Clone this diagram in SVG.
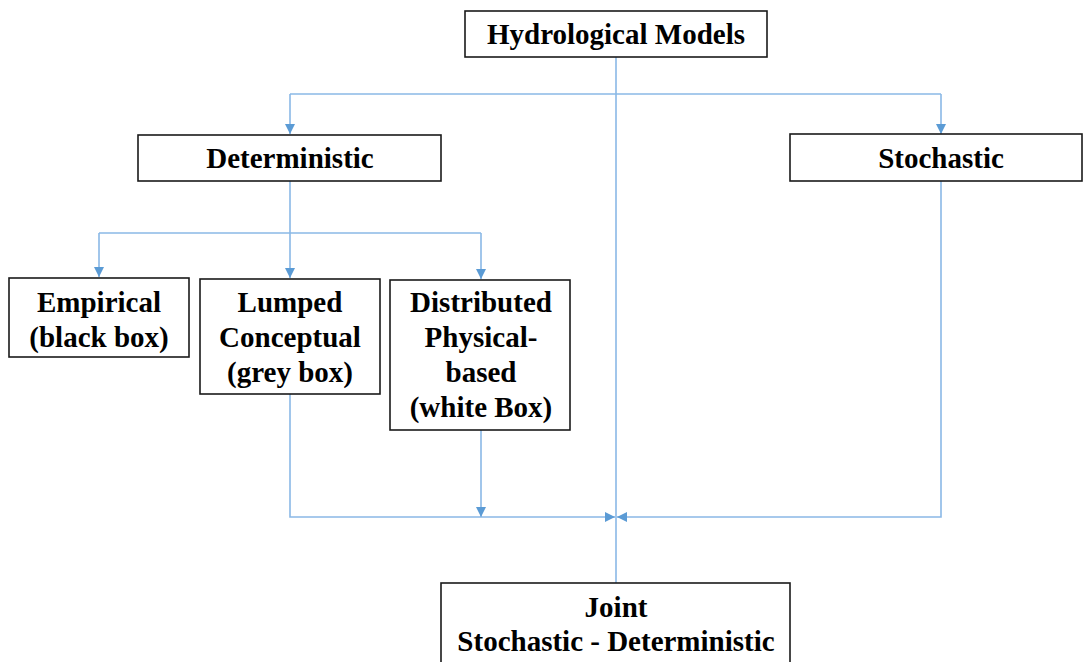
<svg xmlns="http://www.w3.org/2000/svg" width="1083" height="662" viewBox="0 0 1083 662">
<style>
.box{fill:#fff;stroke:#1a1a1a;stroke-width:1.6}
.t{font-family:"Liberation Serif","Times New Roman",serif;font-weight:bold;font-size:29px;fill:#000;text-anchor:middle}
.c{fill:none;stroke:#8ab8e6;stroke-width:1.6}
</style>
<defs>
<marker id="ah" viewBox="0 0 10 10" refX="10" refY="5" markerWidth="10" markerHeight="10" markerUnits="userSpaceOnUse" orient="auto">
<path d="M0,0 L10,5 L0,10 z" fill="#5b9bd5"/>
</marker>
</defs>
<rect width="1083" height="662" fill="#fff"/>
<g id="connectors">
<path class="c" d="M616,57 V583"/>
<path class="c" d="M290,94 H941"/>
<path class="c" d="M290,94 V134" marker-end="url(#ah)"/>
<path class="c" d="M941,94 V134" marker-end="url(#ah)"/>
<path class="c" d="M290,181 V278" marker-end="url(#ah)"/>
<path class="c" d="M99,233 H481"/>
<path class="c" d="M99,233 V277" marker-end="url(#ah)"/>
<path class="c" d="M481,233 V279" marker-end="url(#ah)"/>
<path class="c" d="M290,394 V517 H615" marker-end="url(#ah)"/>
<path class="c" d="M481,430 V517" marker-end="url(#ah)"/>
<path class="c" d="M941,181 V517 H617" marker-end="url(#ah)"/>
</g>
<g id="hydrological-models">
<rect class="box" x="465" y="11" width="302" height="46"/>
<text class="t" x="616" y="44">Hydrological Models</text>
</g>
<g id="deterministic">
<rect class="box" x="138" y="135" width="303" height="46"/>
<text class="t" x="290" y="168">Deterministic</text>
</g>
<g id="stochastic">
<rect class="box" x="790" y="134" width="292" height="47"/>
<text class="t" x="941" y="168">Stochastic</text>
</g>
<g id="empirical">
<rect class="box" x="9" y="278" width="180" height="79"/>
<text class="t" x="99" y="312">Empirical</text>
<text class="t" x="99" y="347">(black box)</text>
</g>
<g id="lumped">
<rect class="box" x="200" y="279" width="180" height="115"/>
<text class="t" x="290" y="312">Lumped</text>
<text class="t" x="290" y="347">Conceptual</text>
<text class="t" x="290" y="382">(grey box)</text>
</g>
<g id="distributed">
<rect class="box" x="390" y="280" width="180" height="150"/>
<text class="t" x="481" y="312">Distributed</text>
<text class="t" x="481" y="347">Physical-</text>
<text class="t" x="481" y="382">based</text>
<text class="t" x="481" y="417">(white Box)</text>
</g>
<g id="joint">
<rect class="box" x="441" y="583" width="349" height="90"/>
<text class="t" x="616" y="617">Joint</text>
<text class="t" x="616" y="651">Stochastic - Deterministic</text>
</g>
</svg>
